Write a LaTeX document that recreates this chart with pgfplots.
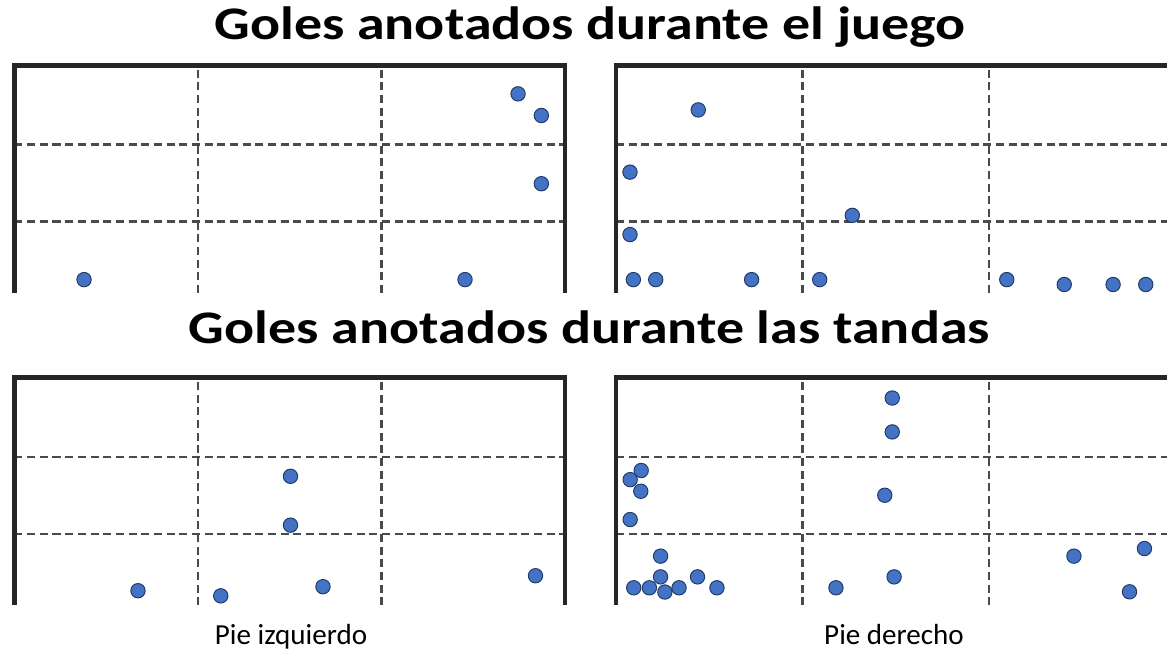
\documentclass[border=0pt]{standalone}
\usepackage{pgfplots}
\pgfplotsset{compat=1.18}
\usepackage{fontspec}
\setmainfont{Carlito}
\newfontfamily\titlefont[FakeStretch=1.2]{Carlito}
\definecolor{dotblue}{HTML}{4472C4}
\definecolor{dotedge}{HTML}{1F3864}
\definecolor{framec}{HTML}{262626}
\definecolor{dashc}{HTML}{4A4A4A}
\pgfplotsset{
  goal/.style={
    scale only axis, width=412.9pt, height=170.6pt, anchor=south west,
    xmin=0, xmax=3, ymin=-0.02, ymax=1,
    axis line style={draw=none}, tick style={draw=none},
    xtick={1,2}, ytick={0.30,0.645}, xticklabels={}, yticklabels={},
    grid=major,
    major grid style={dashc, line width=1.9pt, dash pattern=on 6pt off 3.5pt},
    clip=false,
  },
  dots/.style={only marks, mark=*, mark size=5.4pt,
    mark options={fill=dotblue, draw=dotedge, line width=0.7pt}},
}
\begin{document}
\begin{tikzpicture}
\path[use as bounding box] (0,0) rectangle (875.25pt,489.75pt);
% top-left
\begin{axis}[goal, at={(10.875pt,270pt)}]
\addplot[dots] coordinates {(2.744,0.873) (2.871,0.776) (2.871,0.470) (0.379,0.040) (2.455,0.040)};
\draw[framec, line width=3.5pt, line join=miter] (axis cs:0,-0.02) -- (axis cs:0,1) -- (axis cs:3,1) -- (axis cs:3,-0.02);
\end{axis}
% top-right
\begin{axis}[goal, at={(462pt,270pt)}, width=413.25pt, xmax=2.954]
\addplot[dots] coordinates {(0.441,0.801) (0.075,0.522) (1.267,0.328) (0.075,0.242) (0.093,0.040) (0.213,0.040) (0.727,0.040) (1.092,0.040) (2.095,0.040) (2.403,0.018) (2.665,0.018) (2.840,0.018)};
\draw[framec, line width=3.5pt, line join=miter] (axis cs:0,-0.02) -- (axis cs:0,1) -- (axis cs:2.954,1);
\end{axis}
% bottom-left
\begin{axis}[goal, at={(10.875pt,35.85pt)}]
\addplot[dots] coordinates {(1.504,0.558) (1.504,0.339) (0.673,0.045) (1.124,0.022) (1.681,0.063) (2.839,0.112)};
\draw[framec, line width=3.5pt, line join=miter] (axis cs:0,-0.02) -- (axis cs:0,1) -- (axis cs:3,1) -- (axis cs:3,-0.02);
\end{axis}
% bottom-right
\begin{axis}[goal, at={(462pt,35.85pt)}, width=413.25pt, xmax=2.954]
\addplot[dots] coordinates {(1.481,0.909) (1.481,0.757) (1.441,0.473) (0.135,0.584) (0.076,0.543) (0.133,0.491) (0.076,0.364) (0.239,0.200) (0.239,0.107) (0.437,0.107) (0.095,0.058) (0.179,0.058) (0.262,0.039) (0.338,0.058) (0.541,0.058) (1.179,0.058) (1.491,0.107) (2.455,0.200) (2.833,0.234) (2.753,0.040)};
\draw[framec, line width=3.5pt, line join=miter] (axis cs:0,-0.02) -- (axis cs:0,1) -- (axis cs:2.954,1);
\end{axis}
\node[anchor=base, font=\titlefont\fontsize{35}{42}\selectfont\bfseries] at (442.5pt,459.75pt) {Goles anotados durante el juego};
\node[anchor=base, font=\titlefont\fontsize{35}{42}\selectfont\bfseries] at (442pt,232.3pt) {Goles anotados durante las tandas};
\node[anchor=base, font=\fontsize{21.8}{26}\selectfont] at (218.25pt,6pt) {Pie izquierdo};
\node[anchor=base, font=\fontsize{21.8}{26}\selectfont] at (670.5pt,6pt) {Pie derecho};
\end{tikzpicture}
\end{document}
